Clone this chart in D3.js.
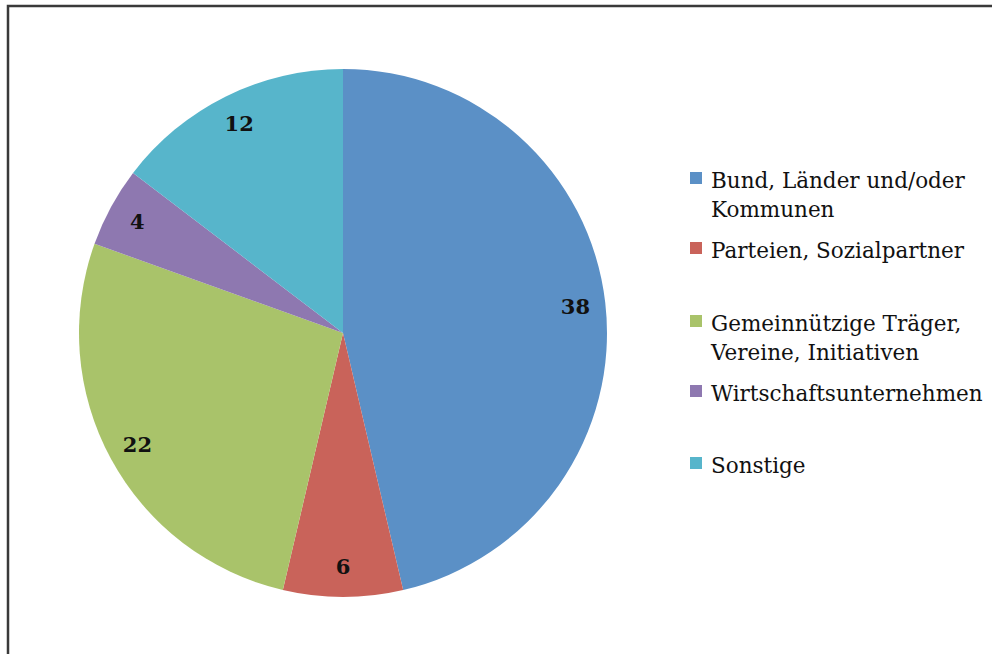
<!DOCTYPE html>
<head>
<meta charset="utf-8">
<title>Pie</title>
<script src="https://d3js.org/d3.v7.min.js"></script>
<style type="text/css">
body { margin: 0; background: #fff; }
text { font-family: "DejaVu Serif", serif; }
</style>
</head>
<body>
<script type="text/javascript">
// data
const categories = ["Bund, Länder und/oder Kommunen", "Parteien, Sozialpartner", "Gemeinnützige Träger, Vereine, Initiativen", "Wirtschaftsunternehmen", "Sonstige"];
const values = [38, 6, 22, 4, 12];
const legendLines = [["Bund, Länder und/oder", "Kommunen"], ["Parteien, Sozialpartner"], ["Gemeinnützige Träger,", "Vereine, Initiativen"], ["Wirtschaftsunternehmen"], ["Sonstige"]];
const colors = ["#5b90c6", "#c9635a", "#a9c36a", "#8e78b0", "#57b5cb"];

const svgW = 992, svgH = 654;
const cx = 343, cy = 333, r = 264;

const svg = d3.select("body").append("svg")
    .attr("width", svgW)
    .attr("height", svgH);

// frame
svg.append("path")
    .attr("d", "M8,654 L8,6 L992,6")
    .attr("fill", "none")
    .attr("stroke", "#3a3a3a")
    .attr("stroke-width", 2.5);

const color = d3.scaleOrdinal(categories, colors);
const pie = d3.pie().sort(null).value(d => d.v);
const arcs = pie(categories.map((c, i) => ({c: c, v: values[i]})));
const arc = d3.arc().innerRadius(0).outerRadius(r);
const labelArc = d3.arc().innerRadius(234).outerRadius(234);

const g = svg.append("g").attr("transform", "translate(" + [cx, cy] + ")");

g.selectAll("path.slice")
    .data(arcs)
    .enter()
    .append("path")
    .attr("class", "slice")
    .attr("d", arc)
    .attr("fill", d => color(d.data.c));

g.selectAll("text.lbl")
    .data(arcs)
    .enter()
    .append("text")
    .attr("class", "lbl")
    .attr("transform", d => "translate(" + labelArc.centroid(d) + ")")
    .attr("text-anchor", "middle")
    .attr("dy", "0.35em")
    .attr("font-size", 21)
    .attr("font-weight", "bold")
    .attr("fill", "#111")
    .text(d => d.data.v);

// legend
const legendY = [172, 242, 315, 385, 457];
const leg = svg.selectAll("g.leg")
    .data(categories)
    .enter()
    .append("g")
    .attr("class", "leg")
    .attr("transform", (d, i) => "translate(690," + legendY[i] + ")");

leg.append("rect")
    .attr("width", 12)
    .attr("height", 12)
    .attr("fill", d => color(d));

leg.each(function(d, i) {
    const t = d3.select(this).append("text")
        .attr("x", 21)
        .attr("y", 16)
        .attr("font-size", 21.5)
        .attr("fill", "#111");
    legendLines[i].forEach((line, j) => {
        t.append("tspan").attr("x", 21).attr("dy", j ? 29 : 0).text(line);
    });
});
</script>
</body>
